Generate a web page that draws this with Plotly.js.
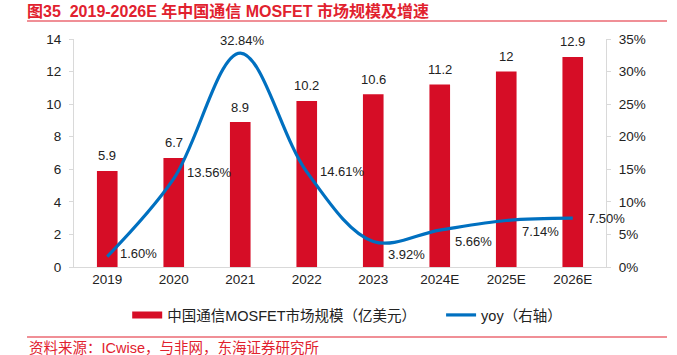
<!DOCTYPE html>
<html>
<head>
<meta charset="utf-8">
<script src="https://cdn.plot.ly/plotly-3.0.1.min.js"></script>
<style>html,body{margin:0;padding:0;background:#fff;}#chart{width:677px;height:355px;}</style>
</head>
<body>
<div id="chart"></div>
<script>
// ---- data ----
const categories = ['2019', '2020', '2021', '2022', '2023', '2024E', '2025E', '2026E'];
const marketSize = [5.9, 6.7, 8.9, 10.2, 10.6, 11.2, 12, 12.9];      // 亿美元
const yoyPct = [1.60, 13.56, 32.84, 14.61, 3.92, 5.66, 7.14, 7.50];  // %
const leftTicks = [0, 2, 4, 6, 8, 10, 12, 14];
const rightTicks = [0, 5, 10, 15, 20, 25, 30, 35];
const barName = '中国通信MOSFET市场规模（亿美元）';
const lineName = 'yoy（右轴）';
const titleText = '图35  2019-2026E 年中国通信 MOSFET 市场规模及增速';
const sourceText = '资料来源：ICwise，与非网，东海证券研究所';

// ---- style ----
const FONT = '"Liberation Sans", Arial, "Noto Sans CJK SC", sans-serif';
const RED = '#D60D26';
const TITLE_RED = '#E1212E';
const BLUE = '#0070C0';
const AXIS_GRAY = '#D9D9D9';
const TXT = '#222222';
// label placement for yoy labels: [xshift, yshift, xanchor]
const yoyLabelPlacement = [
  [10.5, 3, 'left'], [11, 6.5, 'left'], [2.5, 12.6, 'center'], [11.5, 0, 'left'],
  [13, -13, 'left'], [13, -11, 'left'], [13.5, -10.7, 'left'], [13, 0, 'left']
];

const barTrace = {
  type: 'bar', x: categories, y: marketSize, name: barName,
  marker: {color: RED}, showlegend: false, hoverinfo: 'skip'
};
// legend-only entry drawn as a thick red swatch (no visible marks)
const barLegendTrace = {
  type: 'scatter', mode: 'lines', x: categories, y: categories.map(() => null), name: barName,
  line: {color: RED, width: 7}, showlegend: true, legend: 'legend', hoverinfo: 'skip', connectgaps: false
};
const lineTrace = {
  type: 'scatter', mode: 'lines', x: categories, y: yoyPct, yaxis: 'y2', name: lineName,
  line: {color: BLUE, width: 3.2, shape: 'spline', smoothing: 1}, hoverinfo: 'skip',
  legend: 'legend2'
};

const annotations = [];
categories.forEach((c, i) => {
  // category index i is used for x so numeric-looking names are not read as positions
  annotations.push({
    x: i, y: marketSize[i], xref: 'x', yref: 'y', text: String(marketSize[i]),
    showarrow: false, yshift: 15, xanchor: 'center', yanchor: 'middle',
    font: {family: FONT, size: 13, color: TXT}
  });
  const p = yoyLabelPlacement[i];
  annotations.push({
    x: i, y: yoyPct[i], xref: 'x', yref: 'y2', text: yoyPct[i].toFixed(2) + '%',
    showarrow: false, xshift: p[0], yshift: p[1], xanchor: p[2], yanchor: 'middle',
    font: {family: FONT, size: 13, color: TXT}
  });
});
annotations.push({
  xref: 'paper', yref: 'paper', x: -0.0883, y: -0.355, xanchor: 'left', yanchor: 'middle',
  text: sourceText, showarrow: false, font: {family: FONT, size: 14.5, color: TITLE_RED}
});

const legendFont = {family: FONT, size: 14.5, color: TXT};
const layout = {
  width: 677, height: 355, autosize: false,
  paper_bgcolor: '#fff', plot_bgcolor: '#fff',
  margin: {l: 74, r: 71, t: 39, b: 88, pad: 0},
  font: {family: FONT, size: 13, color: TXT},
  title: {
    text: '<b>' + titleText + '</b>', xref: 'container', yref: 'container',
    x: 0.0399, xanchor: 'left', y: 0.969, yanchor: 'middle',
    font: {family: FONT, size: 16, color: TITLE_RED}
  },
  bargap: 0.69,
  xaxis: {
    type: 'category', categoryorder: 'array', categoryarray: categories, range: [-0.5, 7.5],
    showline: true, linecolor: AXIS_GRAY, linewidth: 1,
    ticks: '', showgrid: false, zeroline: false,
    tickfont: {family: FONT, size: 13.5, color: TXT}
  },
  yaxis: {
    range: [0, 14], tickvals: leftTicks, showline: true, linecolor: AXIS_GRAY, linewidth: 1,
    ticks: 'outside', ticklen: 4, tickcolor: AXIS_GRAY, showgrid: false, zeroline: false,
    ticklabelstandoff: 5, tickfont: {family: FONT, size: 13.5, color: TXT}
  },
  yaxis2: {
    overlaying: 'y', side: 'right', range: [0, 35], tickvals: rightTicks,
    ticktext: rightTicks.map(v => v + '%'),
    showline: true, linecolor: AXIS_GRAY, linewidth: 1,
    ticks: 'outside', ticklen: 4, tickcolor: AXIS_GRAY, showgrid: false, zeroline: false,
    ticklabelstandoff: 5, tickfont: {family: FONT, size: 13.5, color: TXT}
  },
  legend: {
    orientation: 'h', x: 0.1, xanchor: 'left', y: -0.2105, yanchor: 'middle',
    font: legendFont, bgcolor: 'rgba(0,0,0,0)'
  },
  legend2: {
    orientation: 'h', x: 0.69, xanchor: 'left', y: -0.2105, yanchor: 'middle',
    font: legendFont, bgcolor: 'rgba(0,0,0,0)'
  },
  showlegend: true,
  annotations: annotations,
  shapes: [
    {type: 'line', xref: 'paper', yref: 'paper', x0: -0.0883, x1: 1.1147, y0: 1.0789, y1: 1.0789,
     line: {color: TITLE_RED, width: 1.2}},
    {type: 'line', xref: 'paper', yref: 'paper', x0: -0.0883, x1: 1.1147, y0: -0.307, y1: -0.307,
     line: {color: TITLE_RED, width: 1.2}}
  ]
};

Plotly.newPlot('chart', [barTrace, barLegendTrace, lineTrace], layout, {displayModeBar: false, staticPlot: true});
</script>
</body>
</html>
